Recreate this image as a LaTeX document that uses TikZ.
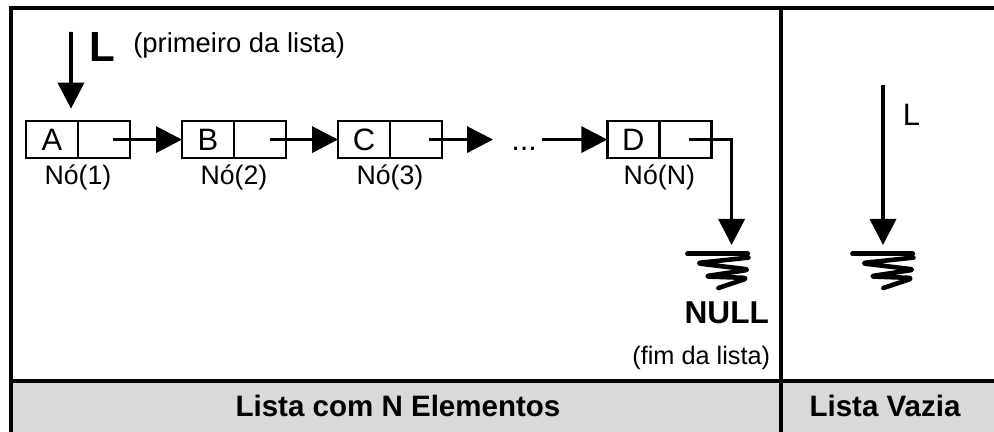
\documentclass[tikz,border=0pt]{standalone}
\usepackage{fontspec}
\setmainfont{Liberation Sans}
\usepackage{xcolor}
\usetikzlibrary{arrows.meta,positioning}
\definecolor{footgray}{HTML}{D9D9D9}
\tikzset{%
  % texts
  txt/.style={font=\fontsize{22}{26}\selectfont, inner sep=0pt},
  ellip/.style={txt, text height=5.6mm, text depth=0pt},
  head/.style={font=\bfseries\fontsize{21}{25}\selectfont, inner sep=0pt},
  big/.style={font=\bfseries\fontsize{30}{36}\selectfont, inner sep=0pt},
  note/.style={font=\fontsize{18}{22}\selectfont, inner sep=0pt},
  nodelabel/.style={note, font=\fontsize{19}{23}\selectfont, anchor=base},
  % boxes
  cell/.style={txt, draw, line width=0.6mm, minimum width=13mm, minimum height=9.25mm,
    inner sep=0pt, outer sep=0pt, text height=5.6mm, text depth=0pt},
  % edge styles
  ptr/.style={-{Triangle[length=6.5mm, width=6.5mm]}, line width=0.9mm},
  tabline/.style={line width=1mm},
  % null pointer
  nullsym/.pic={
    \draw[line width=1.25mm, line cap=round] (-7.5mm,0) -- (7.5mm,0);
    \draw[line width=1.15mm, line cap=round, line join=round, rounded corners=1.4mm]
      (7.7mm,-0.9mm) -- (-5.4mm,-2.3mm) -- (8.1mm,-3.9mm) -- (-3.3mm,-5.6mm)
      -- (7.7mm,-6mm) -- (0.2mm,-8.5mm);
  },
}
\newcommand{\listnode}[3][]{%
  % #1 = extra TikZ options
  % #2 = node name
  % #3 = content
  \node[cell, #1] (d#2) {#3};
  \node[cell, right=0pt of d#2] (p#2) {};
}

\begin{document}
\begin{tikzpicture}
  \useasboundingbox (0,0) rectangle (248.5mm,108mm);

  % Table
  \fill[footgray] (2.75mm,-2mm) rectangle (251mm,12.75mm);
  \draw[tabline] (2.75mm,-2mm) rectangle (251mm,105.9mm);
  \draw[tabline] (2.75mm,12.75mm) -- (251mm,12.75mm);
  \draw[tabline] (195.25mm,-2mm) -- (195.25mm,105.9mm);

  % Nodes
  \listnode[at={(13mm,73.1mm)}]{A}{A};
  \listnode[right=13mm of pA]{B}{B};
  \listnode[right=13mm of pB]{C}{C};
  \node[ellip, base right=17.25mm of pC] (dots) {...};
  \listnode[base right=17.5mm of dots]{D}{D};

  % Labels
  \node[nodelabel] (nA) at ([yshift=-6.6mm]dA.south east) {Nó(1)};
  \node[nodelabel] (nB) at ([yshift=-6.6mm]dB.south east) {Nó(2)};
  \node[nodelabel] (nC) at ([yshift=-6.6mm]dC.south east) {Nó(3)};
  \node[nodelabel] (nD) at ([yshift=-6.6mm]dD.south east) {Nó(N)};

  % Head pointer
  \coordinate (Ltop) at (17.75mm,100mm);
  \draw[ptr] (Ltop) -- ([xshift=4.75mm, yshift=3.1mm]dA.north);
  \node[big, anchor=base west] (lbl) at ([xshift=4.5mm, yshift=-7.5mm]Ltop) {L};
  \node[note, font=\fontsize{19.5}{23}\selectfont, anchor=base west] (first)
    at (33.25mm,94.9mm) {(primeiro da lista)};

  % Links
  \draw[ptr] ([xshift=2.25mm]pA.center) -- (dB.west);
  \draw[ptr] ([xshift=2.5mm]pB.center) -- (dC.west);
  \draw[ptr, shorten >=4.5mm] ([xshift=3.25mm]pC.center) -- (dots.west);
  \draw[ptr, shorten <=1.25mm] (dots.east) -- (dD.west);

  % End of list
  \coordinate (nullL) at (182.9mm,46.75mm);
  \draw[ptr] ([xshift=1mm]pD.center) -| (nullL);
  \pic at ([xshift=-3.5mm, yshift=-2.25mm]nullL) {nullsym};
  \node[big, font=\bfseries\fontsize{22.5}{27}\selectfont, anchor=base east] (null)
    at (192.3mm,27mm) {NULL};
  \node[note, anchor=base east] (fim) at (192.6mm,16.75mm) {(fim da lista)};

  % Empty list
  \coordinate (Lvtop) at (220.75mm,86.75mm);
  \coordinate (nullR) at (220.75mm,46.75mm);
  \draw[ptr] (Lvtop) -- (nullR);
  \node[txt, anchor=base west] (lblR) at ([xshift=4.9mm, yshift=-10.25mm]Lvtop) {L};
  \pic at ([xshift=-0.1mm, yshift=-2.25mm]nullR) {nullsym};

  % Captions
  \node[head, anchor=base] (capN) at (99.5mm,3.75mm) {Lista com N Elementos};
  \node[head, anchor=base] (capE) at (221.25mm,3.75mm) {Lista Vazia};
\end{tikzpicture}
\end{document}
